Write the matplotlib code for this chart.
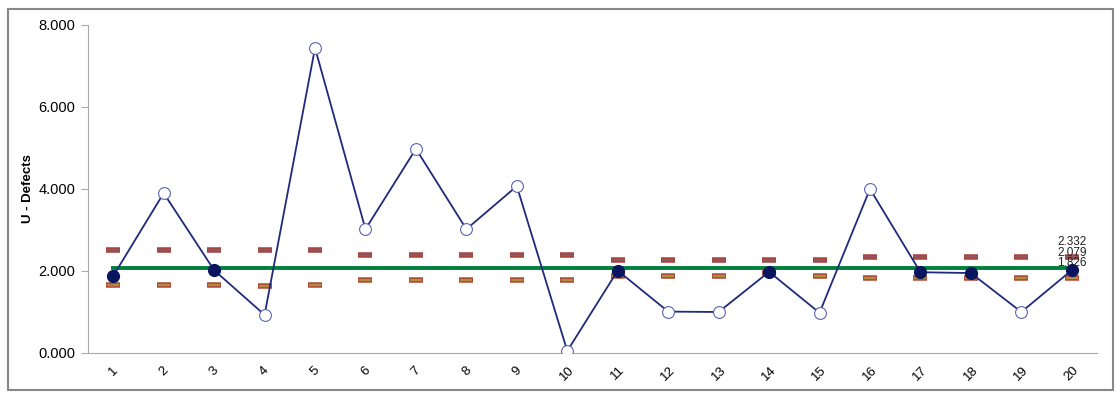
import matplotlib
matplotlib.use("Agg")
import matplotlib.pyplot as plt
from matplotlib.patches import Rectangle
from matplotlib.ticker import FormatStrFormatter

plt.rcParams["font.family"] = ["Liberation Sans", "DejaVu Sans"]

# U chart data
samples = list(range(1, 21))
u_values = [1.88, 3.90, 2.02, 0.93, 7.44, 3.02, 4.98, 3.02, 4.07, 0.05,
            2.01, 1.01, 1.00, 1.98, 0.98, 4.00, 1.97, 1.95, 1.00, 2.02]
ucl = [2.51, 2.51, 2.51, 2.51, 2.51, 2.39, 2.39, 2.39, 2.39, 2.39,
       2.27, 2.27, 2.27, 2.27, 2.27, 2.332, 2.332, 2.332, 2.332, 2.332]
lcl = [1.65, 1.65, 1.65, 1.63, 1.65, 1.77, 1.77, 1.77, 1.77, 1.77,
       1.89, 1.89, 1.89, 1.94, 1.89, 1.826, 1.826, 1.826, 1.826, 1.826]
center = 2.079
end_labels = ["2.332", "2.079", "1.826"]

NAVY = "#1f2a7a"
DARK = "#0a1560"

fig = plt.figure(figsize=(11.16, 3.99), dpi=100)
fig.patches.append(Rectangle((8/1116, 9/399), 1105/1116, 381/399, transform=fig.transFigure,
                             fill=False, edgecolor="#888888", lw=1.5))
ax = fig.add_axes([88/1116, 46/399, 1009/1116, 328/399])

# control limit dashes
ax.plot(samples, ucl, ls="none", marker="_", ms=10, mew=4, color="#a8453c", zorder=3)
ax.plot(samples, ucl, ls="none", marker="_", ms=8, mew=1.1, color="#8a5a6a", zorder=3)
ax.plot(samples, lcl, ls="none", marker="_", ms=10, mew=4, color="#b0503a", zorder=3)
ax.plot(samples, lcl, ls="none", marker="_", ms=8, mew=1.1, color="#b0a040", zorder=3)

# center line
ax.plot([samples[0], samples[-1]], [center, center], color="#00803c", lw=2.8, zorder=4)

# data line + markers
ax.plot(samples, u_values, color=NAVY, lw=1.3, zorder=5)
inside = [(s, v) for s, v, hi, lo in zip(samples, u_values, ucl, lcl) if lo <= v <= hi]
outside = [(s, v) for s, v, hi, lo in zip(samples, u_values, ucl, lcl) if not (lo <= v <= hi)]
ax.plot([p[0] for p in inside], [p[1] for p in inside], ls="none", marker="o", ms=8.5,
        mfc=DARK, mec=DARK, zorder=6)
ax.plot([p[0] for p in outside], [p[1] for p in outside], ls="none", marker="o", ms=8.5,
        mfc="white", mec="#5a64b8", mew=0.8, zorder=6)

for i, t in enumerate(end_labels):
    ax.annotate(t, (samples[-1], u_values[-1]), xytext=(0, 20.5 - 7.8 * i), textcoords="offset points",
                ha="center", va="center", fontsize=8.5, color="#222222", zorder=7)

ax.set_xlim(0.5, 20.5)
ax.set_ylim(0, 8)
ax.set_yticks([0, 2, 4, 6, 8])
ax.yaxis.set_major_formatter(FormatStrFormatter("%.3f"))
ax.set_xticks(samples)
ax.set_xticklabels([str(s) for s in samples], rotation=45, fontsize=9.5)
ax.tick_params(axis="x", length=0, pad=8)
ax.tick_params(axis="y", length=5, color="#aaaaaa", labelsize=10.5, pad=4)
ax.set_ylabel("U - Defects", fontsize=9.5, fontweight="bold")
ax.yaxis.set_label_coords(-0.054, 0.5)
for s in ("top", "right"):
    ax.spines[s].set_visible(False)
for s in ("left", "bottom"):
    ax.spines[s].set_color("#aaaaaa")

fig.savefig("out.png", dpi=100)
